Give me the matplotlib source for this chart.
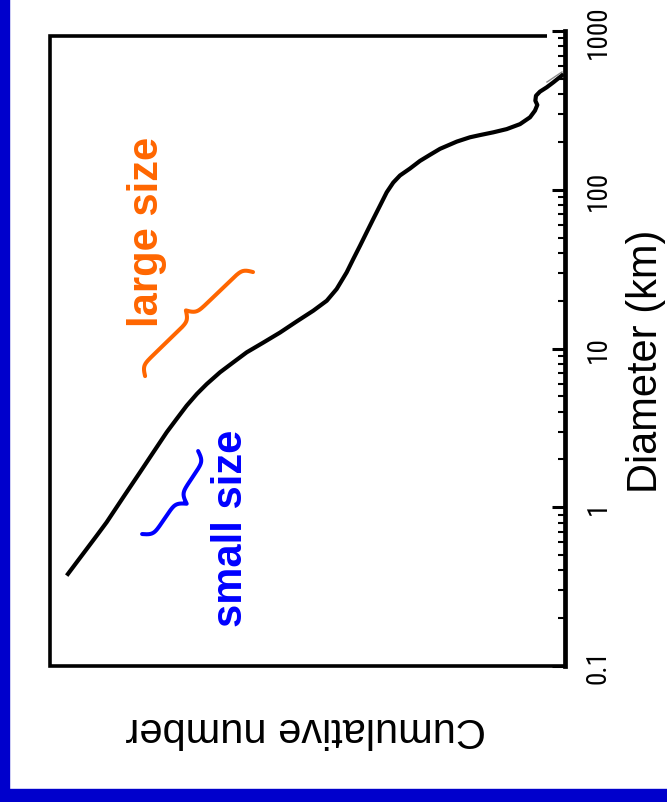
import numpy as np
import matplotlib
matplotlib.use('Agg')
import matplotlib.pyplot as plt
from matplotlib import font_manager as fm
from matplotlib.patches import Rectangle
from matplotlib.ticker import LogLocator, FixedLocator, FixedFormatter, NullFormatter

# ---------------- data ----------------
diameter_km = [0.371, 0.450, 0.546, 0.662, 0.804, 1.156, 1.66, 2.22, 2.97, 3.60,
               4.36, 5.17, 5.97, 7.08, 8.18, 9.46, 10.9, 12.6, 14.8, 17.3,
               20.0, 23.7, 30.2, 36.6, 44.4, 54.0, 65.4, 79.4, 96.4, 111,
               123, 136, 152, 166, 181, 201, 214, 221, 230, 241,
               259, 286, 315, 342, 364, 391, 415, 442, 475, 523, 536]
cumulative_number = [5.93e6, 4.34e6, 3.17e6, 2.32e6, 1.70e6, 1.01e6, 5.98e5, 3.94e5, 2.59e5, 1.90e5,
                     1.39e5, 1.01e5, 7.41e4, 4.89e4, 3.23e4, 2.12e4, 1.26e4, 7.48e3, 4.44e3, 2.64e3,
                     1.73e3, 1.27e3, 927, 755, 611, 496, 404, 327, 265, 216,
                     175, 128, 93.5, 68.4, 50.0, 29.6, 19.6, 14.3, 9.43, 6.20,
                     4.09, 2.99, 2.56, 2.38, 2.53, 2.48, 2.19, 1.77, 1.44, 1.11, 1.05]
alt_diameter_km = [477, 552]
alt_cumulative_number = [1.76, 1.10]

tick_values = [0.1, 1, 10, 100, 1000]
tick_labels = ['0.1', '1', '10', '100', '1000']

large_size_D = [6.7, 30.3]
large_size_N = [5.1e5, 1.74e4]
small_size_D = [0.678, 2.26]
small_size_N = [5.6e5, 9.7e4]


def has_font(name):
    try:
        fm.findfont(fm.FontProperties(family=name), fallback_to_default=False)
        return True
    except Exception:
        return False


tick_family, tick_size = 'Liberation Sans', 16.5
for cand in ['Liberation Sans Narrow', 'Roboto Condensed', 'DejaVu Sans Condensed']:
    if has_font(cand):
        tick_family, tick_size = cand, 19.5
        break

W, H = 667, 803
fig = plt.figure(figsize=(W / 100, H / 100), dpi=100)
fig.patch.set_facecolor('white')

# blue frame strips
frame_blue = '#0000CC'
fig.add_artist(Rectangle((0, 0), 9 / W, 1, transform=fig.transFigure,
                         color=frame_blue, zorder=0))
fig.add_artist(Rectangle((0, 0), 1, 13 / H, transform=fig.transFigure,
                         color=frame_blue, zorder=0))

ax = fig.add_axes([50 / W, 136 / H, 515 / W, 635 / H])
ax.set_xscale('log')
ax.set_yscale('log')
ax.set_xlim(1e7, 1)
ax.set_ylim(0.1, 1000)
ax.patch.set_alpha(0)

# frame
for s in ['top', 'left', 'bottom']:
    ax.spines[s].set_visible(False)
ax.spines['right'].set_linewidth(3.4)
top_frac = (H - 37 - 136) / 635
ax.plot([(547 - 50) / 515, 0, 0, 1], [top_frac, top_frac, 0, 0],
        transform=ax.transAxes, color='black', lw=2.6, clip_on=False,
        solid_joinstyle='miter', solid_capstyle='butt')

# ticks
ax.tick_params(axis='x', which='both', bottom=False, top=False,
               labelbottom=False, labeltop=False)
ax.yaxis.set_major_locator(FixedLocator(tick_values))
ax.yaxis.set_major_formatter(FixedFormatter(tick_labels))
ax.yaxis.set_minor_locator(LogLocator(base=10, subs=np.arange(2, 10)))
ax.yaxis.set_minor_formatter(NullFormatter())
ax.tick_params(axis='y', which='both', left=False, labelleft=False,
               right=True, labelright=True, direction='in')
ax.tick_params(axis='y', which='major', length=9.5, width=2.2, pad=14,
               labelsize=tick_size, labelrotation=90)
ax.tick_params(axis='y', which='minor', length=5, width=1.5)
for lab in ax.get_yticklabels():
    lab.set_fontfamily(tick_family)
    lab.set_va('center')
    lab.set_ha('left')

# curve
ax.plot(cumulative_number, diameter_km, color='black', lw=3.0,
        solid_capstyle='butt', solid_joinstyle='round', clip_on=False)
ax.plot(alt_cumulative_number, alt_diameter_km, color='#8a8a8a', lw=1.0)


def draw_brace(ax, d_vals, n_vals, height_px, side, color):
    p = ax.transData.transform(np.column_stack([n_vals, d_vals]))
    p1, p2 = p[0], p[1]
    v = p2 - p1
    L = np.hypot(v[0], v[1])
    u = v / L
    nrm = np.array([-u[1], u[0]]) * side
    beta = 0.35
    xh = np.linspace(0, L / 2, 300)
    yh = (1 / (1 + np.exp(-beta * (xh - xh[0]))) +
          1 / (1 + np.exp(-beta * (xh - xh[-1]))))
    t = np.concatenate([xh, L - xh[-2::-1]])
    y = np.concatenate([yh, yh[-2::-1]])
    y = (y - 0.5) * height_px
    pts = p1 + np.outer(t, u) + np.outer(y, nrm)
    dpts = ax.transData.inverted().transform(pts)
    ax.plot(dpts[:, 0], dpts[:, 1], color=color, lw=2.9, clip_on=False,
            solid_capstyle='round', solid_joinstyle='round')


orange = '#FF6600'
blue = '#0000FF'
draw_brace(ax, large_size_D, large_size_N, 19, +1, orange)
draw_brace(ax, small_size_D, small_size_N, 20, -1, blue)

fam = ['Liberation Sans', 'DejaVu Sans']
fig.text(147 / W, 1 - 232 / H, 'large size', color=orange, fontsize=30,
         fontweight='bold', rotation=90, ha='center', va='center', family=fam)
fig.text(231 / W, 1 - 528 / H, 'small size', color=blue, fontsize=30,
         fontweight='bold', rotation=90, ha='center', va='center', family=fam)
fig.text(646 / W, 1 - 361 / H, 'Diameter (km)', color='black', fontsize=30,
         rotation=90, ha='center', va='center', family=fam)
fig.text(306 / W, 1 - 729 / H, 'Cumulative number', color='black', fontsize=30,
         rotation=180, ha='center', va='center', family=fam)

fig.savefig('out.png', dpi=100, facecolor='white')
